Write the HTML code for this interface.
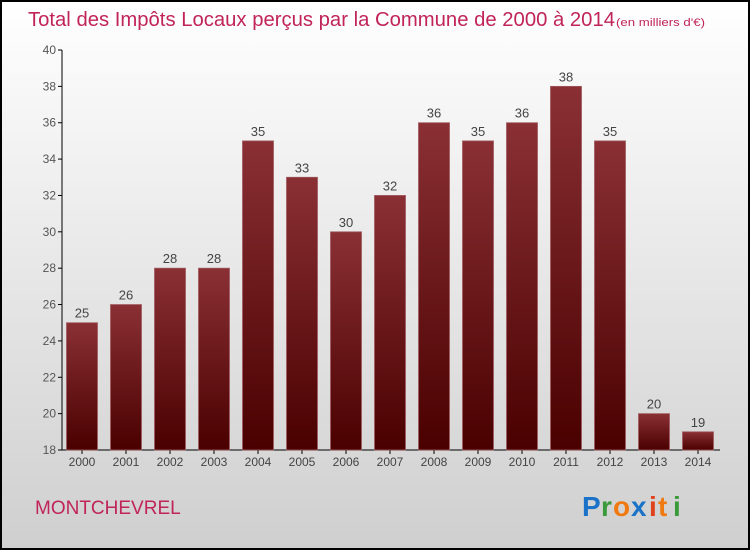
<!DOCTYPE html>
<html><head><meta charset="utf-8"><style>
body{margin:0;width:750px;height:550px;overflow:hidden;font-family:"Liberation Sans",sans-serif}
</style></head><body>
<svg width="750" height="550" xmlns="http://www.w3.org/2000/svg">
<defs>
<linearGradient id="bg" x1="0" y1="0" x2="0" y2="1"><stop offset="0" stop-color="#ffffff"/><stop offset="1" stop-color="#cfcfcf"/></linearGradient>
<linearGradient id="bar" x1="0" y1="0" x2="0" y2="1"><stop offset="0" stop-color="#8a3035"/><stop offset="1" stop-color="#4a0000"/></linearGradient>
</defs>
<rect x="1" y="1" width="748" height="548" fill="url(#bg)" stroke="#000" stroke-width="2"/>
<text x="28" y="26" font-size="20" fill="#c0245a" textLength="587" lengthAdjust="spacingAndGlyphs">Total des Impôts Locaux perçus par la Commune de 2000 à 2014</text>
<text x="616" y="26" font-size="11" fill="#c0245a" textLength="89" lengthAdjust="spacingAndGlyphs">(en milliers d'€)</text>
<g id="axes"></g>
<g id="bars"></g>
<text x="35" y="514" font-size="19" fill="#c0245a">MONTCHEVREL</text>
<g font-size="28" font-weight="bold" font-family="Liberation Sans, sans-serif">
<text x="582" y="516" fill="#1a73c9">P</text><text x="601" y="516" fill="#3a9a3a">r</text><text x="613" y="516" fill="#f07a10">o</text><text x="631" y="516" fill="#1a73c9">x</text><text x="649" y="516" fill="#e0401a">i</text><text x="658" y="516" fill="#f07a10">t</text><text x="673" y="516" fill="#3a9a3a">i</text>
</g>
</svg>
<script>
const years=["2000","2001","2002","2003","2004","2005","2006","2007","2008","2009","2010","2011","2012","2013","2014"];
const values=[25,26,28,28,35,33,30,32,36,35,36,38,35,20,19];
const yTicks=[18,20,22,24,26,28,30,32,34,36,38,40];
const NS="http://www.w3.org/2000/svg";
const x0=62,x1=720,yTop=50,yBot=450,vMin=18,vMax=40;
const y=v=>yBot-(v-vMin)/(vMax-vMin)*(yBot-yTop);
const step=44;
const xc=i=>82+step*i;
function mk(t,a,p){const e=document.createElementNS(NS,t);for(const k in a)e.setAttribute(k,a[k]);p.appendChild(e);return e;}
const ax=document.getElementById('axes'),bg=document.getElementById('bars');
const yl=mk('line',{x1:x0,y1:yTop,x2:x0,y2:yBot,stroke:'#000'},ax);


const xl=mk('line',{x1:x0,y1:yBot,x2:x1,y2:yBot,stroke:'#000'},ax);


yTicks.forEach(v=>{
  mk('line',{x1:x0-4,y1:y(v),x2:x0,y2:y(v),stroke:'#000'},ax);
  const t=mk('text',{x:x0-6,y:y(v)+4,'font-size':12,fill:'#555','text-anchor':'end'},ax);
  t.textContent=v;
  
  
});
years.forEach((yr,i)=>{
  const bw=31,v=values[i];
  const r=mk('rect',{x:xc(i)-bw/2,y:y(v),width:bw,height:yBot-y(v),fill:'url(#bar)',stroke:'#a05a5e','stroke-width':0.8},bg);
  
  
  const l=mk('text',{x:xc(i),y:y(v)-5,'font-size':13,fill:'#444','text-anchor':'middle'},bg);
  l.textContent=v;
  
  
  mk('line',{x1:xc(i),y1:yBot,x2:xc(i),y2:yBot+4,stroke:'#000'},ax);
  const t=mk('text',{x:xc(i),y:yBot+16,'font-size':12,fill:'#444','text-anchor':'middle'},ax);
  t.textContent=yr;
  
  
});
</script>
</body></html>
